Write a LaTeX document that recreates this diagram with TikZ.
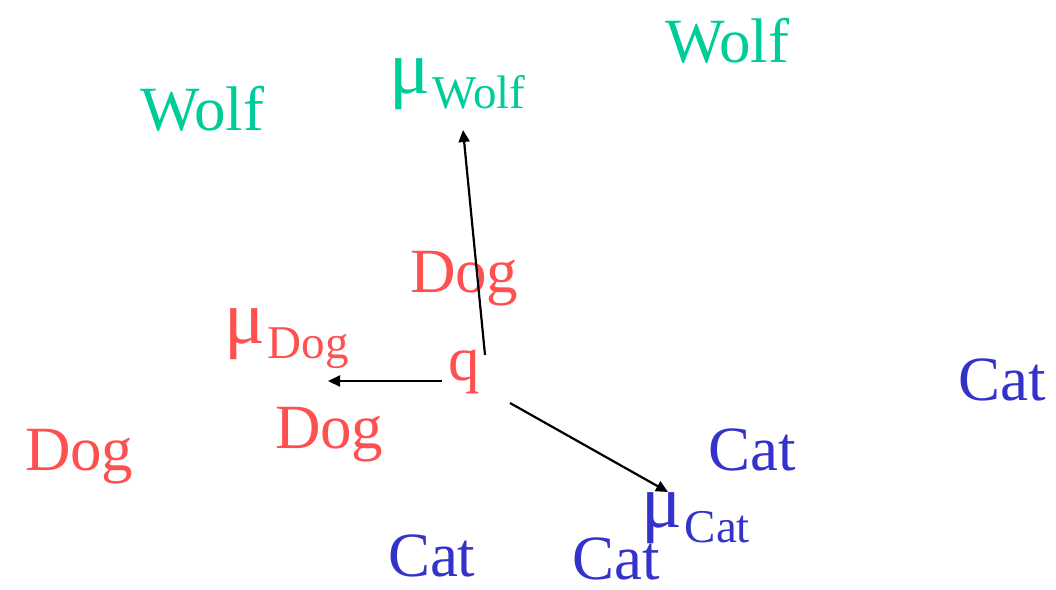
\documentclass[tikz,border=0pt]{standalone}
\usepackage{fontspec}
\setmainfont{Liberation Serif}
\usetikzlibrary{arrows.meta}
\definecolor{wolfgreen}{RGB}{0,204,153}
\definecolor{dogred}{RGB}{255,80,80}
\definecolor{catblue}{RGB}{51,51,204}
\newcommand{\bigtxt}{\fontsize{63}{63}\selectfont}
\newcommand{\mutxt}{\fontsize{76}{76}\selectfont}
\newcommand{\subtxt}{\fontsize{47}{47}\selectfont}
\newcommand{\meanlabel}[1]{{\mutxt μ}\kern3pt\raisebox{-15pt}{\subtxt #1}}
\begin{document}
\begin{tikzpicture}[x=1pt,y=-1pt,
  word/.style={anchor=base west,inner sep=0pt,outer sep=0pt,font=\bigtxt},
  wolf/.style={word,text=wolfgreen},
  dog/.style={word,text=dogred},
  cat/.style={word,text=catblue,text depth=0pt},
  toward/.style={-{Triangle[length=12pt,width=11pt]},line width=2.2pt,black}]
\useasboundingbox (0,0) rectangle (1056,589);
% data points
\node[wolf] (w1) at (665,62) {Wolf};
\node[wolf] (w2) at (140,130) {Wolf};
\node[dog] (d1) at (410,292) {Dog};
\node[dog] (d2) at (275,448) {Dog};
\node[dog] (d3) at (25,470) {Dog};
\node[cat] (c1) at (958,400) {Cat};
\node[cat] (c2) at (708,470) {Cat};
\node[cat] (c3) at (388,576) {Cat};
\node[cat] (c4) at (572,579) {Cat};
% class means
\node[wolf] (mw) at (389,93) {\meanlabel{Wolf}};
\node[dog] (md) at (224,343) {\meanlabel{Dog}};
\node[cat] (mc) at (641,527) {\meanlabel{Cat}};
% query point
\node[dog] (q) at (448,380) {q};
% arrow ends next to q and to the means
\coordinate (qn) at (485,355);
\coordinate (qw) at (442,381);
\coordinate (qs) at (510,403);
\coordinate (mwtip) at (463,130);
\coordinate (mdtip) at (328,381);
\coordinate (mctip) at (668,492);
\draw[toward] (qn) -- (mwtip);
\draw[toward] (qw) -- (mdtip);
\draw[toward] (qs) -- (mctip);
\end{tikzpicture}
\end{document}
